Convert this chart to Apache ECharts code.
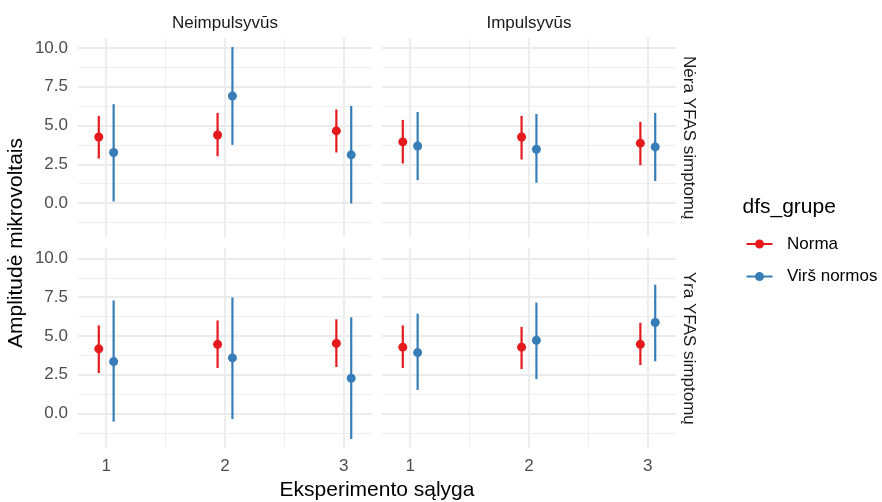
<!DOCTYPE html>
<html>
<head>
<meta charset="utf-8">
<script src="https://cdn.jsdelivr.net/npm/echarts@6/dist/echarts.min.js"></script>
<style>
  html, body { margin: 0; padding: 0; background: #ffffff; }
  #chart { width: 882px; height: 502px; }
</style>
</head>
<body>
<div id="chart"></div>
<script>
// Experiment conditions on the x axis
const CONDITIONS = [1, 2, 3];
const X_TICK_LABELS = ['1', '2', '3'];
const X_MINOR_BREAKS = [1.5, 2.5];
const Y_BREAKS = [0, 2.5, 5, 7.5, 10];
const Y_TICK_LABELS = ['0.0', '2.5', '5.0', '7.5', '10.0'];
const Y_MINOR_BREAKS = [-1.25, 1.25, 3.75, 6.25, 8.75];

const COLUMN_LABELS = ['Neimpulsyvūs', 'Impulsyvūs'];
const ROW_LABELS = ['Nėra YFAS simptomų', 'Yra YFAS simptomų'];
const GROUPS = ['Norma', 'Virš normos'];

// [mean, lower, upper] per condition
const NERA_NEIMP_NORMA = [[4.26, 2.87, 5.62], [4.39, 3.02, 5.81], [4.65, 3.26, 6.03]];
const NERA_NEIMP_VIRS  = [[3.26, 0.11, 6.37], [6.90, 3.75, 10.05], [3.11, -0.02, 6.26]];
const NERA_IMP_NORMA   = [[3.94, 2.55, 5.36], [4.26, 2.81, 5.62], [3.86, 2.44, 5.23]];
const NERA_IMP_VIRS    = [[3.68, 1.48, 5.87], [3.47, 1.31, 5.74], [3.62, 1.43, 5.81]];
const YRA_NEIMP_NORMA  = [[4.17, 2.61, 5.68], [4.46, 2.94, 6.00], [4.52, 3.00, 6.07]];
const YRA_NEIMP_VIRS   = [[3.35, -0.52, 7.29], [3.59, -0.35, 7.48], [2.28, -1.63, 6.20]];
const YRA_IMP_NORMA    = [[4.28, 2.94, 5.68], [4.28, 2.87, 5.59], [4.46, 3.13, 5.85]];
const YRA_IMP_VIRS     = [[3.93, 1.52, 6.44], [4.72, 2.22, 7.15], [5.87, 3.37, 8.30]];

// Panels in row-major order: [row][col]
const PANELS = [
  { row: 0, col: 0, groups: [NERA_NEIMP_NORMA, NERA_NEIMP_VIRS] },
  { row: 0, col: 1, groups: [NERA_IMP_NORMA, NERA_IMP_VIRS] },
  { row: 1, col: 0, groups: [YRA_NEIMP_NORMA, YRA_NEIMP_VIRS] },
  { row: 1, col: 1, groups: [YRA_IMP_NORMA, YRA_IMP_VIRS] }
];

const COLORS = ['#E41A1C', '#377EB8'];
const DODGE_WIDTH = 0.25;
const FONT = '"Liberation Sans", Arial, sans-serif';

// Shared scales: dodged extent plus 5% expansion, like ggplot
const xLo = Math.min(...CONDITIONS) - DODGE_WIDTH / 2;
const xHi = Math.max(...CONDITIONS) + DODGE_WIDTH / 2;
const xPad = (xHi - xLo) * 0.05;
const allVals = PANELS.flatMap(p => p.groups.flatMap(g => g.flatMap(r => [r[1], r[2]])));
const yLo = Math.min(...allVals), yHi = Math.max(...allVals);
const yPad = (yHi - yLo) * 0.05;

const GRID_LEFT = [78, 382];
const GRID_TOP = [38, 248.5];
const GRID_W = 294;
const GRID_H = 199.5;

const grids = [], xAxes = [], yAxes = [], series = [];

PANELS.forEach((p, i) => {
  grids.push({ left: GRID_LEFT[p.col], top: GRID_TOP[p.row], width: GRID_W, height: GRID_H });
  xAxes.push({
    type: 'value', gridIndex: i, min: xLo - xPad, max: xHi + xPad,
    axisLine: { show: false }, axisTick: { show: false }, splitLine: { show: false },
    axisLabel: {
      show: p.row === 1, customValues: CONDITIONS, margin: 10,
      fontFamily: FONT, fontSize: 17, color: '#4D4D4D',
      formatter: v => X_TICK_LABELS[CONDITIONS.indexOf(Math.round(v))] || ''
    }
  });
  yAxes.push({
    type: 'value', gridIndex: i, min: yLo - yPad, max: yHi + yPad,
    axisLine: { show: false }, axisTick: { show: false }, splitLine: { show: false },
    axisLabel: {
      show: p.col === 0, customValues: Y_BREAKS, margin: 10,
      fontFamily: FONT, fontSize: 17, color: '#4D4D4D',
      formatter: v => {
        const k = Y_BREAKS.findIndex(b => Math.abs(b - v) < 1e-6);
        return k >= 0 ? Y_TICK_LABELS[k] : '';
      }
    }
  });

  // Panel grid lines, kept beneath the marks
  const majorH = { color: '#EBEBEB', width: 2, type: 'solid', opacity: 1 };
  const majorV = { color: '#EDEDED', width: 1.9, type: 'solid', opacity: 1 };
  const minor = { color: '#EFEFEF', width: 1.1, type: 'solid', opacity: 1 };
  series.push({
    type: 'line', name: 'grid' + i, xAxisIndex: i, yAxisIndex: i, data: [],
    silent: true, z: 0, zlevel: 0, animation: false,
    markLine: {
      silent: true, z: 0, symbol: ['none', 'none'], label: { show: false }, animation: false,
      emphasis: { disabled: true },
      data: [
        ...Y_MINOR_BREAKS.map(v => ({ yAxis: v, lineStyle: minor })),
        ...X_MINOR_BREAKS.map(v => ({ xAxis: v, lineStyle: minor })),
        ...Y_BREAKS.map(v => ({ yAxis: v, lineStyle: majorH })),
        ...CONDITIONS.map(v => ({ xAxis: v, lineStyle: majorV }))
      ]
    }
  });

  p.groups.forEach((rows, g) => {
    const offset = (g - (GROUPS.length - 1) / 2) * DODGE_WIDTH / GROUPS.length;
    const color = COLORS[g];
    series.push({
      type: 'custom', name: GROUPS[g], xAxisIndex: i, yAxisIndex: i, z: 10,
      itemStyle: { color: color }, animation: false,
      encode: { x: 0, y: [1, 2] },
      data: rows.map((r, k) => [CONDITIONS[k] + offset, r[1], r[2]]),
      renderItem: (params, api) => {
        const a = api.coord([api.value(0), api.value(1)]);
        const b = api.coord([api.value(0), api.value(2)]);
        return {
          type: 'line',
          shape: { x1: a[0], y1: a[1], x2: b[0], y2: b[1] },
          style: { stroke: color, lineWidth: 2.2 }
        };
      }
    });
    series.push({
      type: 'scatter', name: GROUPS[g], xAxisIndex: i, yAxisIndex: i, z: 11,
      symbol: 'circle', symbolSize: 9, animation: false,
      itemStyle: { color: color, opacity: 1 },
      data: rows.map((r, k) => [CONDITIONS[k] + offset, r[0]])
    });
  });
});

// Legend key: short line with a dot
const KEY_ICON = 'path://M0,3.9H9V6.1H0Z M17,3.9H26V6.1H17Z M8.5,5A4.5,4.5 0 1,1 17.5,5A4.5,4.5 0 1,1 8.5,5Z';

const texts = [];
COLUMN_LABELS.forEach((t, c) => texts.push({
  type: 'text', x: GRID_LEFT[c] + GRID_W / 2, y: 23,
  style: { text: t, font: '17px ' + FONT, fill: '#1A1A1A', align: 'center', verticalAlign: 'middle' }
}));
ROW_LABELS.forEach((t, r) => texts.push({
  type: 'text', x: 689, y: GRID_TOP[r] + GRID_H / 2, rotation: -Math.PI / 2,
  style: { text: t, font: '17px ' + FONT, fill: '#1A1A1A', align: 'center', verticalAlign: 'middle' }
}));
texts.push({
  type: 'text', x: 16, y: 243, rotation: Math.PI / 2,
  style: { text: 'Amplitudė mikrovoltais', font: '21px ' + FONT, fill: '#000000', align: 'center', verticalAlign: 'middle' }
});
texts.push({
  type: 'text', x: (GRID_LEFT[0] + GRID_LEFT[1] + GRID_W) / 2, y: 490.5,
  style: { text: 'Eksperimento sąlyga', font: '21px ' + FONT, fill: '#000000', align: 'center', verticalAlign: 'middle' }
});
texts.push({
  type: 'text', x: 742.5, y: 207,
  style: { text: 'dfs_grupe', font: '21px ' + FONT, fill: '#000000', align: 'left', verticalAlign: 'middle' }
});

const chart = echarts.init(document.getElementById('chart'), null, { renderer: 'canvas' });
chart.setOption({
  backgroundColor: '#ffffff',
  animation: false,
  grid: grids,
  xAxis: xAxes,
  yAxis: yAxes,
  legend: {
    orient: 'vertical', left: 746.5, top: 235.5, padding: 0,
    itemWidth: 26, itemHeight: 10, itemGap: 15.5, selectedMode: false,
    data: GROUPS.map(g => ({ name: g, icon: KEY_ICON })),
    textStyle: { fontFamily: FONT, fontSize: 17, color: '#000000', padding: [0, 0, 0, 9.5] }
  },
  graphic: texts,
  series: series
});
</script>
</body>
</html>
